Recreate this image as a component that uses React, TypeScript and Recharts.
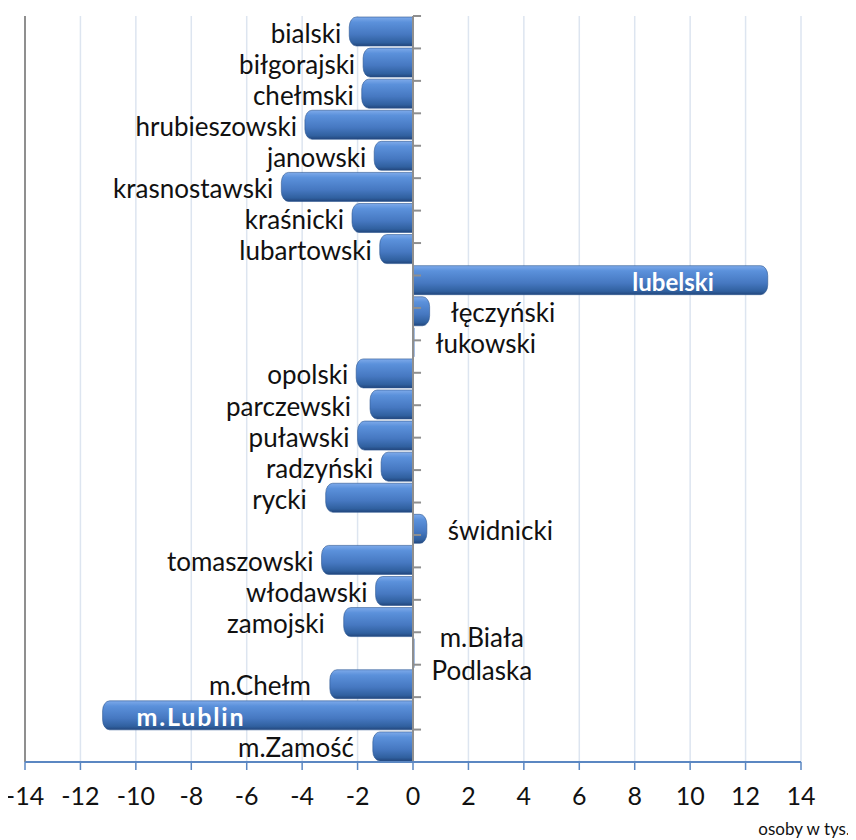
import {
  Bar,
  BarChart,
  CartesianGrid,
  LabelList,
  ReferenceLine,
  XAxis,
  YAxis
} from "recharts";

const districts = [
  "bialski",
  "biłgorajski",
  "chełmski",
  "hrubieszowski",
  "janowski",
  "krasnostawski",
  "kraśnicki",
  "lubartowski",
  "lubelski",
  "łęczyński",
  "łukowski",
  "opolski",
  "parczewski",
  "puławski",
  "radzyński",
  "rycki",
  "świdnicki",
  "tomaszowski",
  "włodawski",
  "zamojski",
  "m.Biała Podlaska",
  "m.Chełm",
  "m.Lublin",
  "m.Zamość"
];

// osoby w tys.
const balance = [
  -2.3, -1.8, -1.85, -3.9, -1.4, -4.75, -2.2, -1.2, 12.8, 0.6, 0.05, -2.05,
  -1.55, -2.0, -1.15, -3.15, 0.5, -3.3, -1.35, -2.5, 0.03, -3.0, -11.2, -1.45
];

const xTicks = [-14, -12, -10, -8, -6, -4, -2, 0, 2, 4, 6, 8, 10, 12, 14];
const rowBounds = districts.map((_, i) => i).concat(districts.length);

const chartData = districts.map((name, i) => ({ name, value: balance[i] }));

const font = "Lato, 'Open Sans', sans-serif";
const colors = {
  grid: "#dde5f0",
  axis: "#8f8f8f",
  xAxis: "#5b87c2",
  text: "#111"
};

// label placement tweaks (Excel had a few labels nudged further out)
const insideLabels: Record<string, number> = { lubelski: -54, "m.Lublin": 34 };
const wideGap = new Set(["parczewski", "rycki", "zamojski", "m.Chełm", "m.Zamość"]);

function CylinderBar(props: any) {
  const { x, y, width, height, index } = props;
  const left = Math.min(x, x + width);
  const right = Math.max(x, x + width);
  const w = right - left;
  if (w < 2) {
    return <rect x={left} y={y} width={Math.max(w, 1.5)} height={height} fill="#4a7cc4" />;
  }
  const rx = Math.min(7, w / 2);
  const ry = Math.min(10, height / 2);
  const h = height;
  const d =
    balance[index] >= 0
      ? `M${left},${y} H${right - rx} A${rx},${ry} 0 0 1 ${right},${y + ry} V${y + h - ry} A${rx},${ry} 0 0 1 ${right - rx},${y + h} H${left} Z`
      : `M${right},${y} H${left + rx} A${rx},${ry} 0 0 0 ${left},${y + ry} V${y + h - ry} A${rx},${ry} 0 0 0 ${left + rx},${y + h} H${right} Z`;
  return <path d={d} fill="url(#barGrad)" stroke="#2b5591" strokeWidth={0.6} />;
}

function DistrictLabel(props: any) {
  const { x, y, width, height, index } = props;
  const name = districts[index];
  const v = balance[index];
  const left = Math.min(x, x + width);
  const right = Math.max(x, x + width);
  const cy = y + height / 2 + 1;
  const common = { fontFamily: font, fontSize: 26, dominantBaseline: "central" as const };

  if (name in insideLabels) {
    const off = insideLabels[name];
    return (
      <text
        {...common}
        x={v >= 0 ? right + off : left + off}
        y={cy}
        textAnchor={v >= 0 ? "end" : "start"}
        fill="#fff"
        fontWeight="bold"
        fontSize={v >= 0 ? 24 : 25}
        letterSpacing={v >= 0 ? 0 : 1.8}
      >
        {name}
      </text>
    );
  }
  if (name === "m.Biała Podlaska") {
    return (
      <text {...common} x={right + 68} y={cy} textAnchor="middle" fill={colors.text}>
        <tspan x={right + 68} dy={-17}>m.Biała</tspan>
        <tspan x={right + 68} dy={33}>Podlaska</tspan>
      </text>
    );
  }
  if (v >= 0) {
    return (
      <text {...common} x={right + 21} y={cy} textAnchor="start" fill={colors.text}>
        {name}
      </text>
    );
  }
  const gap = wideGap.has(name) ? 19 : 8;
  return (
    <text {...common} x={left - gap} y={cy} textAnchor="end" fill={colors.text}>
      {name}
    </text>
  );
}

export default function App() {
  return (
    <div
      style={{
        position: "relative",
        width: 856,
        height: 832,
        marginLeft: -8,
        fontFamily: font
      }}
    >
      <BarChart
        width={856}
        height={832}
        data={chartData}
        layout="vertical"
        margin={{ top: 8, right: 55, left: 25, bottom: 28 }}
        barCategoryGap={1}
      >
        <defs>
          <linearGradient id="barGrad" x1="0" y1="0" x2="0" y2="1">
            <stop offset="0%" stopColor="#7eaaea" />
            <stop offset="18%" stopColor="#5b91db" />
            <stop offset="60%" stopColor="#4678c1" />
            <stop offset="88%" stopColor="#30609f" />
            <stop offset="100%" stopColor="#22467c" />
          </linearGradient>
        </defs>
        <CartesianGrid horizontal={false} stroke={colors.grid} strokeWidth={1.5} />
        <XAxis
          type="number"
          domain={[-14, 14]}
          ticks={xTicks}
          interval={0}
          height={50}
          axisLine={{ stroke: colors.xAxis, strokeWidth: 2 }}
          tickLine={{ stroke: colors.xAxis, strokeWidth: 1.5 }}
          tickSize={8}
          tickMargin={17}
          tick={{ fontFamily: font, fontSize: 25, fill: colors.text }}
        />
        <YAxis type="category" dataKey="name" hide />
        <YAxis yAxisId="rows" type="number" domain={[0, districts.length]} reversed hide />
        <ReferenceLine x={-14} stroke={colors.axis} strokeWidth={2} />
        <Bar dataKey="value" shape={<CylinderBar />} isAnimationActive={false}>
          <LabelList dataKey="name" content={<DistrictLabel />} />
        </Bar>
        <ReferenceLine x={0} stroke={colors.axis} strokeWidth={2} />
        {rowBounds.map((b) => (
          <ReferenceLine
            key={b}
            yAxisId="rows"
            segment={[
              { x: 0, y: b },
              { x: 0.29, y: b }
            ]}
            stroke={colors.axis}
            strokeWidth={2}
          />
        ))}
      </BarChart>
      <div
        style={{
          position: "absolute",
          right: 6,
          top: 810,
          fontSize: 17,
          color: colors.text
        }}
      >
        osoby w tys.
      </div>
    </div>
  );
}
